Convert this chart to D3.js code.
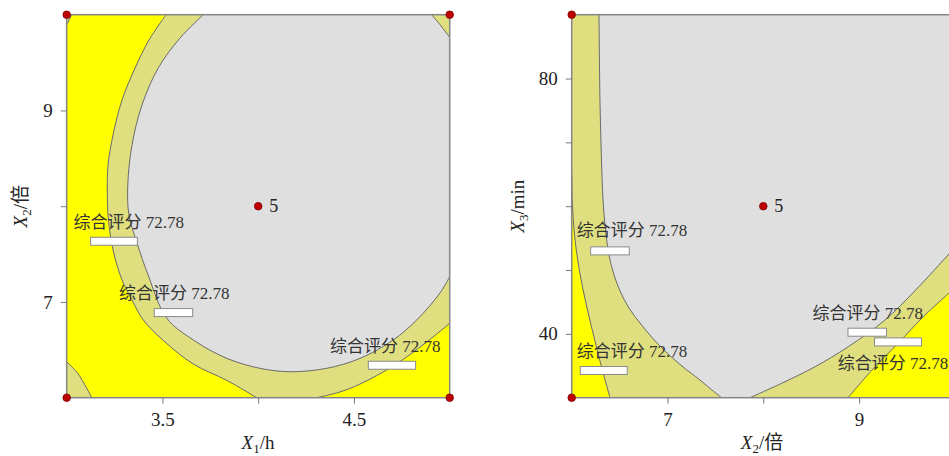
<!DOCTYPE html>
<html><head><meta charset="utf-8">
<script src="https://cdn.jsdelivr.net/npm/d3@7"></script>
<style>
body{margin:0;background:#fff}svg{display:block}
.ser{font-family:"Liberation Serif","Times New Roman",Tinos,"DejaVu Serif",serif,"Noto Sans CJK SC";}
</style>
</head><body>
<svg id="c" width="949" height="456"></svg>
<script>
// ---------- data ----------
// Left panel: X1/h (3..5) vs X2/倍 (6..10)
const leftXDomain = [3, 5];
const leftYDomain = [6, 10];
const leftXTicks = [3.5, 4, 4.5];
const leftXTickLabels = ["3.5", "", "4.5"];
const leftYTicks = [7, 8, 9];
const leftYTickLabels = ["7", "", "9"];
// outer contour (yellow / khaki), two pieces
const leftOuterA = [[3.519,10],[3.430,9.736],[3.357,9.443],[3.289,9.109],[3.242,8.744],[3.216,8.430],[3.212,8.169],[3.218,7.856],[3.242,7.543],[3.289,7.229],[3.341,7.020],[3.400,6.812],[3.513,6.582],[3.661,6.352],[3.836,6.181],[3.992,6.0]];
const leftOuterB = [[4.305,6.0],[4.427,6.060],[4.532,6.143],[4.705,6.331],[4.880,6.582],[5.0,6.777]];
// inner contour (khaki / grey)
const leftInnerA = [[3.713,10],[3.592,9.757],[3.478,9.443],[3.393,9.057],[3.341,8.639],[3.319,8.221],[3.325,7.908],[3.367,7.616],[3.425,7.282],[3.522,6.832],[3.661,6.603],[3.836,6.411],[4.009,6.307],[4.166,6.271],[4.358,6.307],[4.532,6.411],[4.705,6.603],[4.828,6.812],[4.949,7.093],[5.0,7.264]];
const leftInnerB = [[5.0,9.764],[4.955,9.882],[4.906,10]];
// corner contours
const leftCornerBL = [[3.0,6.376],[3.059,6.250],[3.131,6.0]];
const leftCornerTL = [[3.0,9.896],[3.026,10]];
const leftCenter = [4, 8];
const leftCenterLabel = "5";
const leftCorners = [[3,6],[3,10],[5,6],[5,10]];
// flags: box x0, x1, y ; text x, y
const leftFlagBoxes = [[3.125,3.369,7.634],[3.457,3.658,6.889],[4.575,4.822,6.339]];
const leftFlagTexts = [[3.035,7.769],[3.273,7.031],[4.375,6.480]];
const flagLabel = "综合评分 72.78";

// Right panel: X2/倍 (6..10) vs X3/min (30..90)
const rightXDomain = [6, 10];
const rightYDomain = [30, 90];
const rightXTicks = [7, 8, 9];
const rightXTickLabels = ["7", "", "9"];
const rightYTicks = [40, 50, 60, 70, 80];
const rightYTickLabels = ["40", "", "", "", "80"];
const rightL1 = [[6.0,64.89],[6.008,60.19],[6.029,55.49],[6.066,51.26],[6.113,47.34],[6.170,43.42],[6.233,39.51],[6.306,35.12],[6.400,30.0]];
const rightL2 = [[6.285,90],[6.295,76.64],[6.311,67.24],[6.327,60.97],[6.353,56.27],[6.389,52.36],[6.442,49.22],[6.509,46.56],[6.598,44.05],[6.713,41.70],[6.843,39.35],[6.984,37.16],[7.151,34.96],[7.339,32.77],[7.464,31.20],[7.566,30.0]];
const rightR2 = [[7.861,30.0],[8.192,32.26],[8.540,34.85],[8.887,37.99],[9.270,42.17],[9.591,46.87],[9.938,52.51],[10.0,53.45]];
const rightR1 = [[8.884,30.0],[9.135,34.34],[9.406,38.52],[9.688,42.95],[9.938,46.40],[10.0,47.34]];
const rightCenter = [8, 60];
const rightCenterLabel = "5";
const rightCorners = [[6,30],[6,90],[10,30],[10,90]];
const rightFlagBoxes = [[6.198,6.601,53.00],[6.090,6.580,34.26],[8.884,9.286,40.26],[9.161,9.651,38.74]];
const rightFlagTexts = [[6.052,55.38],[6.052,36.42],[8.514,42.33],[8.777,34.57]];

// ---------- styles ----------
const C_YELLOW = "#FFFF00", C_KHAKI = "#DFDF80", C_GREY = "#DFDFDF";
const C_LINE = "#6a6a6a", C_FRAME = "#858585";

const svg = d3.select("#c");

function panel(opt) {
  const sx = d3.scaleLinear().domain(opt.xDomain).range([opt.x0, opt.x1]);
  const sy = d3.scaleLinear().domain(opt.yDomain).range([opt.y1, opt.y0]);
  const g = svg.append("g");
  const clipId = "clip" + opt.id;
  svg.append("defs").append("clipPath").attr("id", clipId)
    .append("rect").attr("x", opt.x0).attr("y", opt.y0)
    .attr("width", opt.x1 - opt.x0).attr("height", opt.y1 - opt.y0);
  const line = d3.line().x(d => sx(d[0])).y(d => sy(d[1])).curve(d3.curveCatmullRom.alpha(0.5));
  const P = (pts) => line(pts);
  const L = (pts) => line(pts).replace(/^M/, "L");
  const pt = (d) => "L" + sx(d[0]) + "," + sy(d[1]);
  const fills = g.append("g").attr("clip-path", `url(#${clipId})`);
  fills.append("rect").attr("x", opt.x0).attr("y", opt.y0)
    .attr("width", opt.x1 - opt.x0).attr("height", opt.y1 - opt.y0).attr("fill", opt.bg);
  opt.regions(fills, { P, L, pt });
  const lines = g.append("g").attr("clip-path", `url(#${clipId})`);
  opt.curves.forEach(c => lines.append("path").attr("d", P(c)).attr("fill", "none")
    .attr("stroke", C_LINE).attr("stroke-width", 1));
  // frame
  g.append("rect").attr("x", opt.x0).attr("y", opt.y0)
    .attr("width", opt.x1 - opt.x0).attr("height", opt.y1 - opt.y0)
    .attr("fill", "none").attr("stroke", C_FRAME).attr("stroke-width", 1.5);
  // axes
  const ax = d3.axisBottom(sx).tickValues(opt.xTicks).tickSize(6).tickPadding(9)
    .tickFormat((d, i) => opt.xTickLabels[i]);
  const ay = d3.axisLeft(sy).tickValues(opt.yTicks).tickSize(6).tickPadding(8)
    .tickFormat((d, i) => opt.yTickLabels[i]);
  const gx = g.append("g").attr("transform", `translate(0,${opt.y1})`).call(ax);
  const gy = g.append("g").attr("transform", `translate(${opt.x0},0)`).call(ay);
  [gx, gy].forEach(a => {
    a.attr("font-family", null).attr("font-size", null);
    a.select(".domain").remove();
    a.selectAll(".tick line").attr("stroke", "#7a7a7a");
    a.selectAll(".tick text").attr("class", "ser").attr("fill", "#222").style("font-size", "19px");
  });
  // axis titles
  const xt = g.append("text").attr("class", "ser").attr("x", opt.xTitleX).attr("y", 449).attr("text-anchor", "middle")
    .style("font-size", "19px").attr("fill", "#222");
  xt.append("tspan").style("font-style", "italic").text("X");
  xt.append("tspan").attr("dy", 4).style("font-size", "13px").text(opt.xTitle[0]);
  xt.append("tspan").attr("dy", -4).text(opt.xTitle[1]);
  const yt = g.append("text").attr("class", "ser").attr("transform", `translate(${opt.yTitleX},${(opt.y0 + opt.y1) / 2}) rotate(-90)`)
    .attr("text-anchor", "middle").style("font-size", "19px").attr("fill", "#222");
  yt.append("tspan").style("font-style", "italic").text("X");
  yt.append("tspan").attr("dy", 4).style("font-size", "13px").text(opt.yTitle[0]);
  yt.append("tspan").attr("dy", -4).text(opt.yTitle[1]);
  // flags
  const fl = g.append("g");
  opt.flagBoxes.forEach((b, i) => {
    fl.append("rect").attr("x", sx(b[0])).attr("y", sy(b[2]) - 4)
      .attr("width", sx(b[1]) - sx(b[0])).attr("height", 8)
      .attr("fill", "#fff").attr("stroke", "#8a8a8a").attr("stroke-width", 1);
    const t = opt.flagTexts[i];
    fl.append("text").attr("class", "ser").attr("x", sx(t[0])).attr("y", sy(t[1]))
      .style("font-size", "17px").attr("fill", "#333").text(flagLabel);
  });
  // center point
  g.append("circle").attr("cx", sx(opt.center[0])).attr("cy", sy(opt.center[1])).attr("r", 3.8)
    .attr("fill", "#C00000").attr("stroke", "#7a0000").attr("stroke-width", 0.8);
  g.append("text").attr("class", "ser").attr("x", sx(opt.center[0]) + 11).attr("y", sy(opt.center[1]) + 6)
    .style("font-size", "18px").attr("fill", "#222").text(opt.centerLabel);
  opt.corners.forEach(c => g.append("circle").attr("cx", sx(c[0])).attr("cy", sy(c[1])).attr("r", 3.8)
    .attr("fill", "#C00000").attr("stroke", "#7a0000").attr("stroke-width", 0.8));
}

panel({
  id: "L", x0: 66.7, x1: 449.7, y0: 14.7, y1: 397.7,
  xDomain: leftXDomain, yDomain: leftYDomain, bg: C_YELLOW,
  xTicks: leftXTicks, xTickLabels: leftXTickLabels, yTicks: leftYTicks, yTickLabels: leftYTickLabels,
  xTitle: ["1", "/h"], yTitle: ["2", "/倍"], xTitleX: 258, yTitleX: 27,
  regions: (f, h) => {
    f.append("path").attr("fill", C_KHAKI)
      .attr("d", h.P(leftOuterA) + h.L(leftOuterB) + h.pt([5, 10]) + "Z");
    f.append("path").attr("fill", C_GREY)
      .attr("d", h.P(leftInnerA) + h.L(leftInnerB) + "Z");
    f.append("path").attr("fill", C_KHAKI).attr("d", h.P(leftCornerBL) + h.pt([3, 6]) + "Z");
    f.append("path").attr("fill", C_KHAKI).attr("d", h.P(leftCornerTL) + h.pt([3, 10]) + "Z");
  },
  curves: [leftOuterA, leftOuterB, leftInnerA, leftInnerB, leftCornerBL, leftCornerTL],
  flagBoxes: leftFlagBoxes, flagTexts: leftFlagTexts,
  center: leftCenter, centerLabel: leftCenterLabel, corners: leftCorners
});

panel({
  id: "R", x0: 571.7, x1: 954.9, y0: 14.7, y1: 397.7,
  xDomain: rightXDomain, yDomain: rightYDomain, bg: C_KHAKI,
  xTicks: rightXTicks, xTickLabels: rightXTickLabels, yTicks: rightYTicks, yTickLabels: rightYTickLabels,
  xTitle: ["2", "/倍"], yTitle: ["3", "/min"], xTitleX: 762, yTitleX: 524,
  regions: (f, h) => {
    f.append("path").attr("fill", C_GREY)
      .attr("d", h.P(rightL2) + h.L(rightR2) + h.pt([10, 90]) + "Z");
    f.append("path").attr("fill", C_YELLOW).attr("d", h.P(rightL1) + h.pt([6, 30]) + "Z");
    f.append("path").attr("fill", C_YELLOW).attr("d", h.P(rightR1) + h.pt([10, 30]) + "Z");
  },
  curves: [rightL1, rightL2, rightR2, rightR1],
  flagBoxes: rightFlagBoxes, flagTexts: rightFlagTexts,
  center: rightCenter, centerLabel: rightCenterLabel, corners: rightCorners
});
</script>
</body></html>
